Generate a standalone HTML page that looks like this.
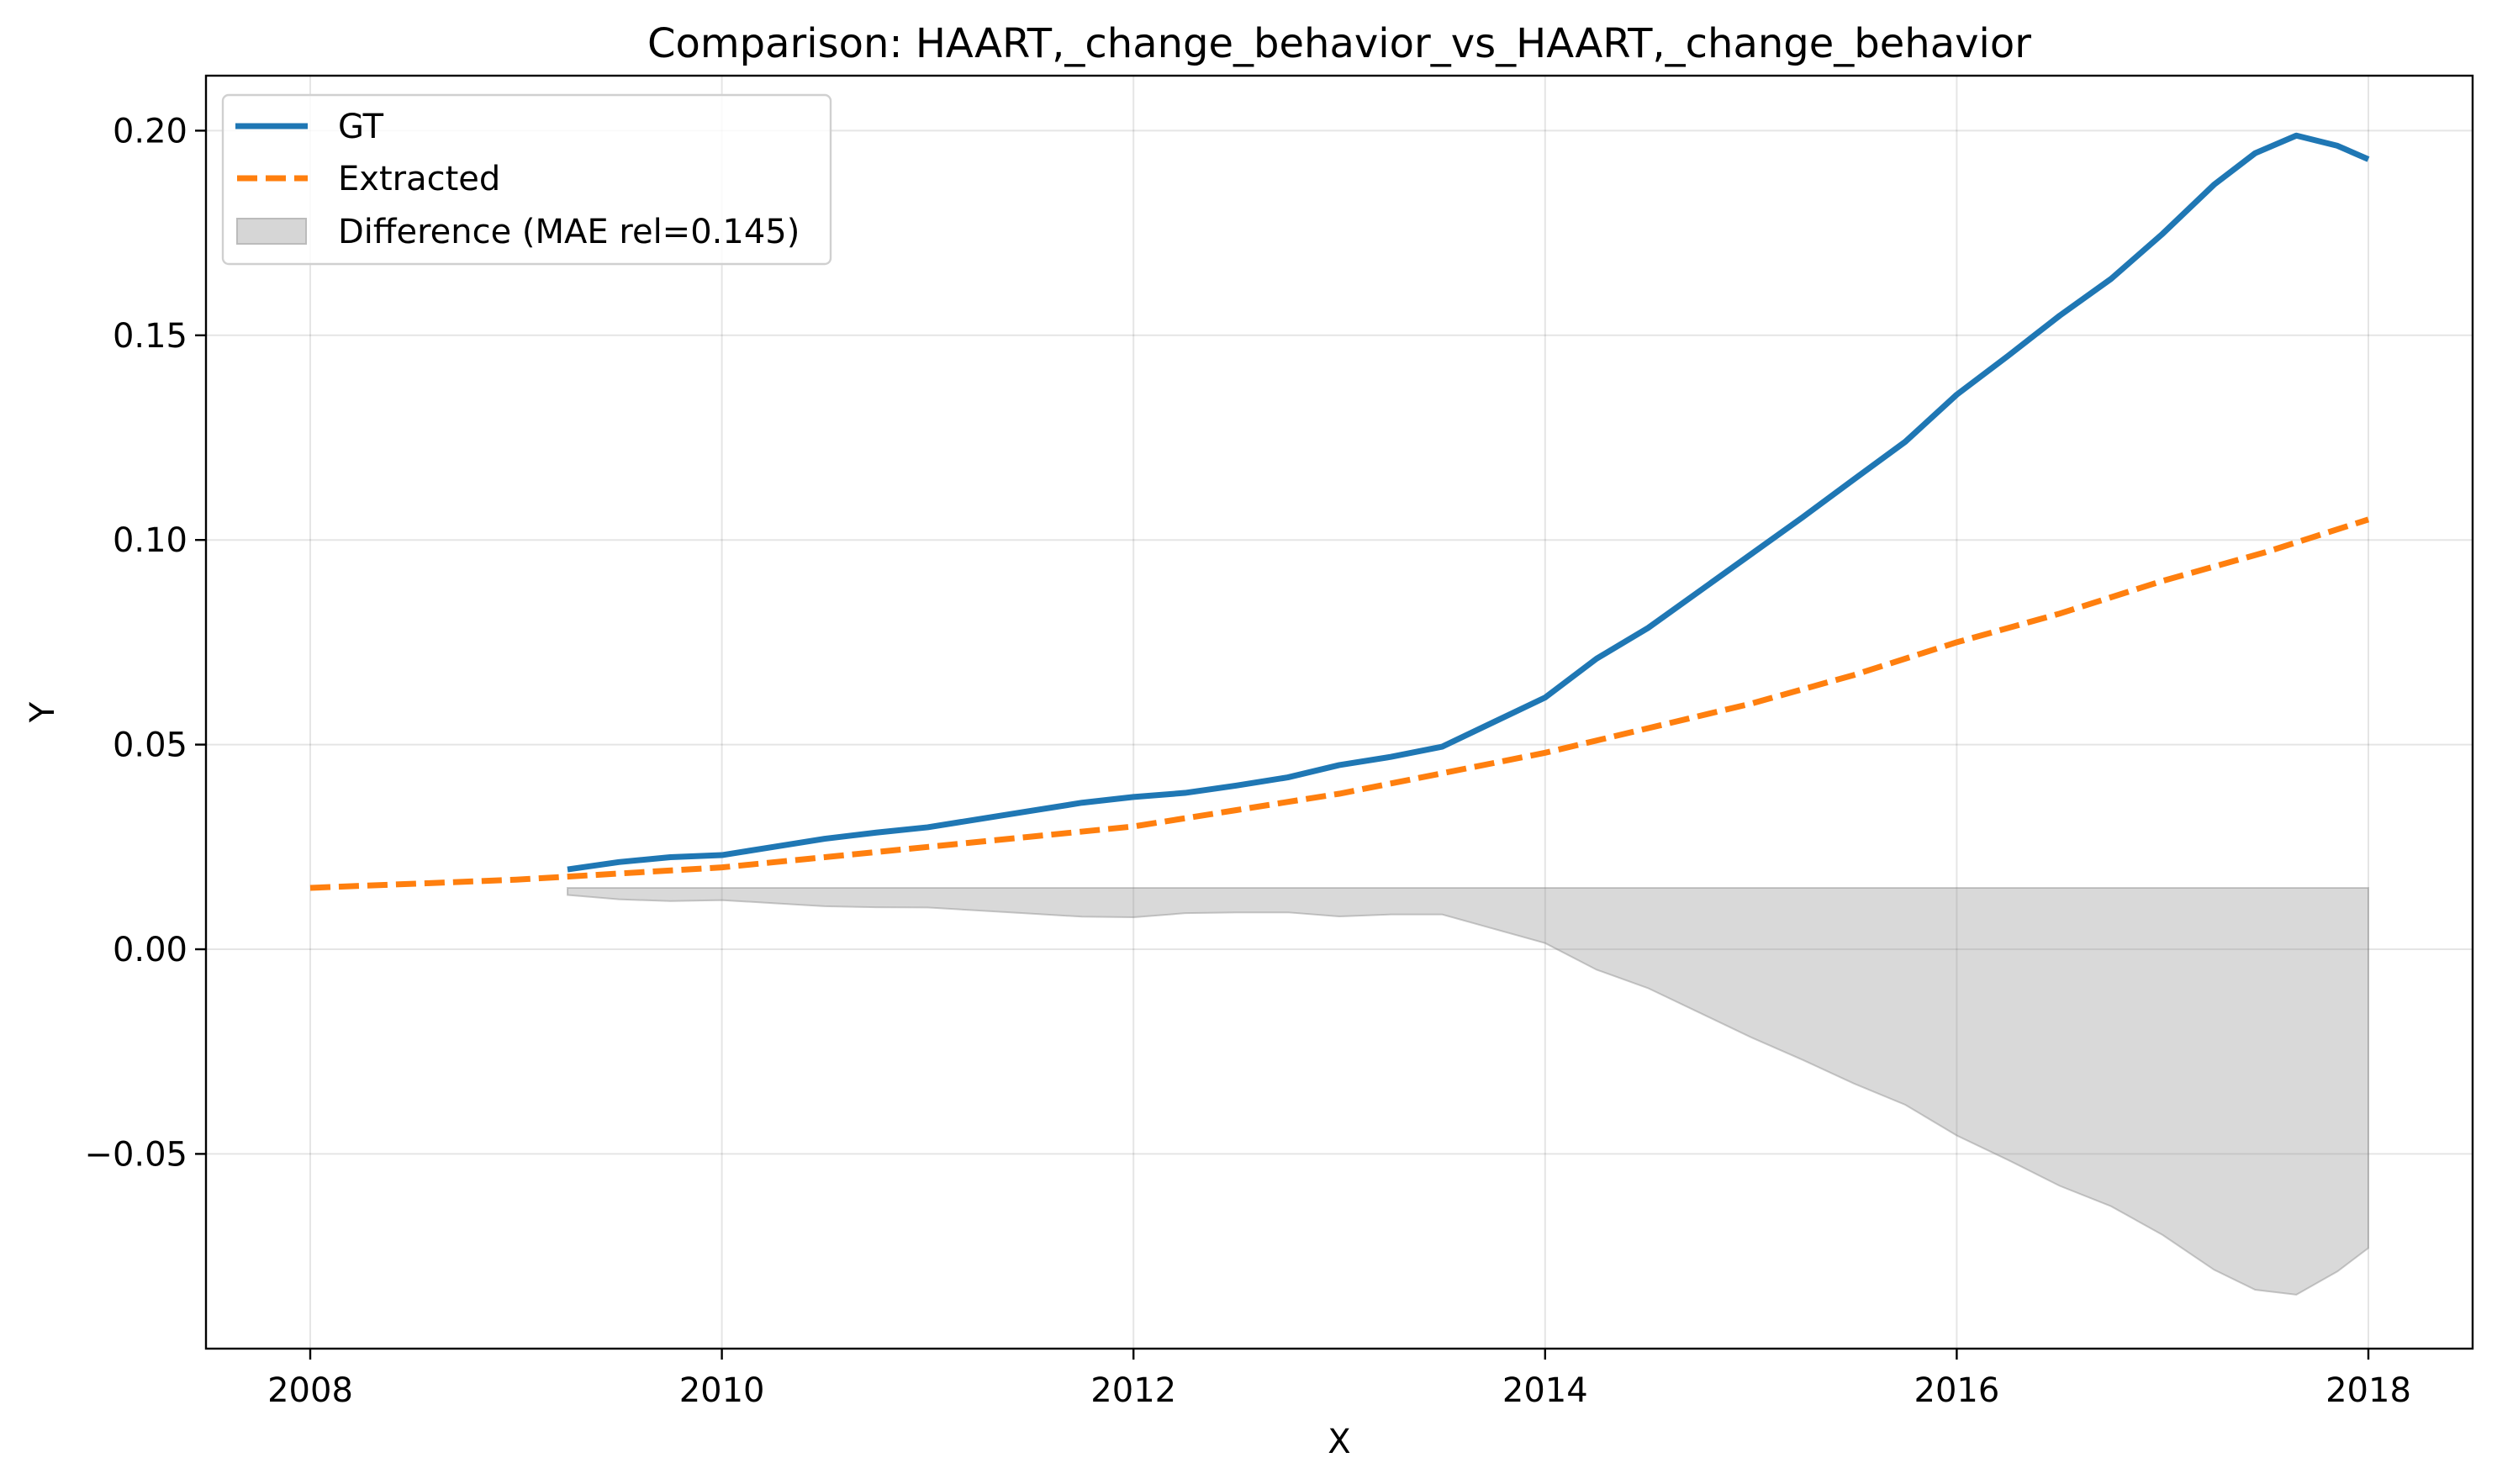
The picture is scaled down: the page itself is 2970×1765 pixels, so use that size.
<!DOCTYPE html>
<html><head><meta charset="utf-8"><style>
html,body{margin:0;padding:0;background:#fff;}
svg{display:block;font-family:"DejaVu Sans","Liberation Sans",sans-serif;}
</style></head><body>
<svg id="chart" width="2970" height="1765" viewBox="0 0 2970 1765" xmlns="http://www.w3.org/2000/svg">
<rect x="0" y="0" width="2970" height="1765" fill="#fff"/>
<g id="grid"></g>
<g id="band"></g>
<g id="lines"></g>
<rect x="245" y="90" width="2696" height="1514" fill="none" stroke="#000" stroke-width="2.4"/>
<g id="ticks"></g>
<text x="1593" y="68" font-size="48" text-anchor="middle">Comparison: HAART,_change_behavior_vs_HAART,_change_behavior</text>
<text x="1593" y="1728" font-size="40" text-anchor="middle">X</text>
<text x="64" y="847" font-size="40" text-anchor="middle" transform="rotate(-90 64 847)">Y</text>
<g>
<rect x="265" y="113" width="723" height="201" rx="7" fill="#fff" fill-opacity="0.8" stroke="#d0d0d0" stroke-width="2.4"/>
<line x1="280" y1="150" x2="366" y2="150" stroke="#1f77b4" stroke-width="7"/>
<text x="402" y="164" font-size="40">GT</text>
<line x1="282" y1="212" x2="366" y2="212" stroke="#ff7f0e" stroke-width="7" stroke-dasharray="24,10"/>
<text x="402" y="226" font-size="40">Extracted</text>
<rect x="282" y="260" width="82" height="30" fill="#d6d6d6" stroke="#bbb" stroke-width="2"/>
<text x="402" y="289" font-size="40">Difference (MAE rel=0.145)</text>
</g>
</svg>
<script>
const gtX=[2009.25,2009.5,2009.75,2010,2010.25,2010.5,2010.75,2011,2011.25,2011.5,2011.75,2012,2012.25,2012.5,2012.75,2013,2013.25,2013.5,2013.75,2014,2014.25,2014.5,2014.75,2015,2015.25,2015.5,2015.75,2016,2016.25,2016.5,2016.75,2017,2017.25,2017.45,2017.65,2017.85,2018];
const gtY=[0.0195,0.0213,0.0225,0.023,0.025,0.027,0.0285,0.0298,0.0318,0.0338,0.0358,0.0372,0.0382,0.040,0.042,0.045,0.047,0.0495,0.0555,0.0615,0.071,0.0785,0.0875,0.0965,0.1055,0.1148,0.124,0.1355,0.145,0.1548,0.1638,0.1748,0.1868,0.1945,0.1988,0.1963,0.193];
const exX=[2008,2008.5,2009,2009.5,2010,2010.5,2011,2011.5,2012,2012.5,2013,2013.5,2014,2014.5,2015,2015.5,2016,2016.5,2017,2017.5,2018];
const exY=[0.015,0.016,0.017,0.0185,0.020,0.0225,0.025,0.0275,0.030,0.034,0.038,0.043,0.048,0.054,0.060,0.067,0.075,0.082,0.090,0.097,0.105];
const bandBase=0.015;
const xTicks=[2008,2010,2012,2014,2016,2018];
const yTicks=[-0.05,0,0.05,0.10,0.15,0.20];
const yTickLabels=["\u22120.05","0.00","0.05","0.10","0.15","0.20"];

const NS="http://www.w3.org/2000/svg";
const L=245,R=2941,T=90,B=1604;
function sx(v){return 369+(v-2008)*244.8;}
function sy(v){return 1129-(v/0.05)*243.4;}
function mk(tag,attrs,parent){const e=document.createElementNS(NS,tag);for(const k in attrs)e.setAttribute(k,attrs[k]);parent.appendChild(e);return e;}
function interp(xs,ys,x){for(let i=0;i<xs.length-1;i++){if(x>=xs[i]&&x<=xs[i+1]){const t=(x-xs[i])/(xs[i+1]-xs[i]);return ys[i]+t*(ys[i+1]-ys[i]);}}return ys[ys.length-1];}

const gridG=document.getElementById('grid'),ticksG=document.getElementById('ticks');
xTicks.forEach(v=>{
 const g=mk('line',{x1:sx(v),x2:sx(v),y1:T,y2:B,stroke:'#000','stroke-opacity':0.1,'stroke-width':2},gridG);
 
 
 const t=mk('line',{x1:sx(v),x2:sx(v),y1:B,y2:B+13,stroke:'#000','stroke-width':2.4},ticksG);
 
 
 const l=mk('text',{x:sx(v),y:B+63,'font-size':40,'text-anchor':'middle'},ticksG);
 l.textContent=v;
 
 
});
yTicks.forEach((v,i)=>{
 const g=mk('line',{x1:L,x2:R,y1:sy(v),y2:sy(v),stroke:'#000','stroke-opacity':0.1,'stroke-width':2},gridG);
 
 
 const t=mk('line',{x1:L-13,x2:L,y1:sy(v),y2:sy(v),stroke:'#000','stroke-width':2.4},ticksG);
 
 
 const l=mk('text',{x:L-22,y:sy(v)+14,'font-size':40,'text-anchor':'end'},ticksG);
 l.textContent=yTickLabels[i];
 
 
});

const topPts=gtX.map(x=>sx(x)+','+sy(bandBase)).join(' ');
const botPts=gtX.slice().reverse().map((x)=>{const g=interp(gtX,gtY,x);const e=interp(exX,exY,x);return sx(x)+','+sy(bandBase-(g-e));}).join(' ');
const bandEl=mk('polygon',{points:topPts+' '+botPts,fill:'#808080','fill-opacity':0.3,stroke:'#808080','stroke-opacity':0.4,'stroke-width':2},document.getElementById('band'));



const linesG=document.getElementById('lines');
const exLine=mk('polyline',{points:exX.map((x,i)=>sx(x)+','+sy(exY[i])).join(' '),fill:'none',stroke:'#ff7f0e','stroke-width':7,'stroke-dasharray':'24,10'},linesG);


const gtLine=mk('polyline',{points:gtX.map((x,i)=>sx(x)+','+sy(gtY[i])).join(' '),fill:'none',stroke:'#1f77b4','stroke-width':7,'stroke-linejoin':'round'},linesG);


</script>
</body></html>
